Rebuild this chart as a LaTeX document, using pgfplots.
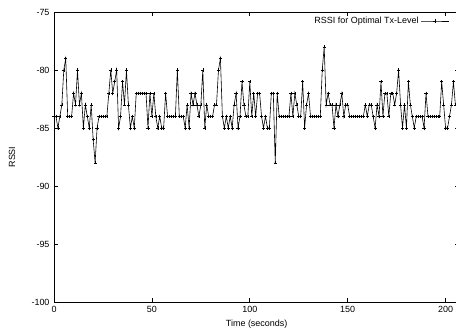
\documentclass[border=0pt]{standalone}
\usepackage{fontspec}
\setmainfont{Liberation Sans}
\usepackage{pgfplots}
\pgfplotsset{compat=1.18}
\pgfplotstableread{
t r
0 -84
1 -84
2 -85
3 -84
4 -83
5 -80
6 -79
7 -84
8 -84
9 -84
10 -82
11 -83
12 -80
13 -83
14 -82
15 -85
16 -83
17 -84
18 -85
19 -83
20 -86
21 -88
22 -85
23 -84
24 -84
25 -84
26 -84
27 -84
28 -82
29 -80
30 -82
31 -81
32 -80
33 -85
34 -84
35 -81
36 -83
37 -80
38 -83
39 -85
40 -84
41 -85
42 -82
43 -82
44 -82
45 -82
46 -82
47 -82
48 -85
49 -82
50 -84
51 -82
52 -84
53 -85
54 -84
55 -85
56 -85
57 -82
58 -84
59 -84
60 -84
61 -84
62 -84
63 -80
64 -84
65 -84
66 -84
67 -85
68 -83
69 -85
70 -82
71 -83
72 -82
73 -83
74 -84
75 -83
76 -80
77 -85
78 -83
79 -84
80 -84
81 -84
82 -83
83 -83
84 -80
85 -79
86 -84
87 -85
88 -84
89 -85
90 -84
91 -85
92 -83
93 -82
94 -85
95 -84
96 -81
97 -83
98 -84
99 -84
100 -81
101 -84
102 -82
103 -84
104 -82
105 -82
106 -84
107 -85
108 -84
109 -85
110 -85
111 -82
112 -82
113 -88
114 -82
115 -84
116 -84
117 -84
118 -84
119 -84
120 -84
121 -82
122 -84
123 -82
124 -83
125 -84
126 -84
127 -81
128 -85
129 -83
130 -82
131 -84
132 -84
133 -84
134 -84
135 -84
136 -84
137 -80
138 -78
139 -83
140 -82
141 -83
142 -83
143 -85
144 -83
145 -84
146 -83
147 -82
148 -84
149 -83
150 -83
151 -84
152 -84
153 -84
154 -84
155 -84
156 -84
157 -84
158 -84
159 -83
160 -84
161 -83
162 -83
163 -84
164 -85
165 -83
166 -84
167 -81
168 -84
169 -82
170 -82
171 -84
172 -82
173 -82
174 -83
175 -82
176 -80
177 -83
178 -85
179 -83
180 -85
181 -81
182 -83
183 -84
184 -85
185 -84
186 -84
187 -84
188 -84
189 -85
190 -82
191 -84
192 -84
193 -84
194 -84
195 -84
196 -84
197 -84
198 -81
199 -83
200 -85
201 -85
202 -84
203 -83
204 -81
205 -83
}\rssi
\begin{document}
\begin{tikzpicture}
\begin{axis}[
  scale only axis,
  width=405.3bp, height=290bp,
  xmin=0, xmax=207, ymin=-100, ymax=-75,
  font=\fontsize{9}{10}\selectfont,
  axis line style={line width=0.8bp},
  tick align=inside,
  major tick length=4bp,
  tick style={line width=0.7bp, black},
  xtick={0,50,100,150,200},
  xticklabels={0,50,100,150,200},
  ytick={-100,-95,-90,-85,-80,-75},
  yticklabels={-100,-95,-90,-85,-80,-75},
  xticklabel style={yshift=-1bp},
  yticklabel style={xshift=-1bp},
  xlabel={Time (seconds)},
  ylabel={RSSI},
  xlabel style={at={([yshift=-22bp]axis description cs:0.5,0)}, anchor=center},
  ylabel style={at={([xshift=-42bp]axis description cs:0,0.5)}, anchor=center, rotate=0},
  legend plot pos=right,
  legend style={draw=none, fill=none, at={(rel axis cs:0.978,0.969)}, anchor=east, inner sep=1bp,
    font=\fontsize{9}{10}\selectfont},
  legend image code/.code={\draw[mark repeat=2,mark phase=2] plot coordinates {(0bp,0bp) (14bp,0bp) (28bp,0bp)};},
]
\addplot[black, line width=0.6bp, mark=+, mark size=1.6bp, mark options={line width=0.5bp}] table[x=t,y=r] {\rssi};
\addlegendentry{RSSI for Optimal Tx-Level}
\end{axis}
\pgfresetboundingbox
\path (-54bp,-31bp) rectangle (402bp,302bp);
\end{tikzpicture}
\end{document}
